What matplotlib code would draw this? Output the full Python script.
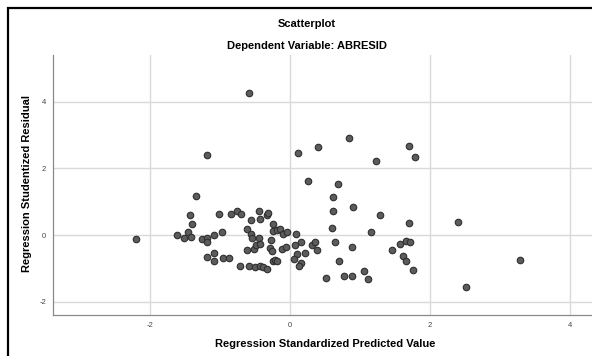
import numpy as np
import matplotlib
matplotlib.use("Agg")
import matplotlib.pyplot as plt
from matplotlib.patches import Rectangle

# Regression standardized predicted value (x) / studentized residual (y)
pred = [-2.20, -1.35, -1.61, -1.52, -1.46, -1.41, -1.43, -1.40, -1.26, -1.19,
        -1.19, -1.08, -0.97, -1.02, -0.84, -0.76, -0.70, -1.08, -1.19, -1.08,
        -0.96, -0.87, -0.71, -0.58, -0.50, -0.43, -0.39, -0.33, -0.61, -0.56,
        -0.55, -0.56, -0.45, -0.43, -0.33, -0.31, -0.44, -0.61, -0.51, -0.48,
        -0.43, -0.27, -0.29, -0.26, -0.24, -0.25, -0.19, -0.14, -0.10, -0.04,
        -0.12, -0.06, -0.25, -0.21, -0.18,
        -0.58, -1.19, 0.11, 0.40, 0.84, 1.23, 1.70, 1.79,
        0.26, 0.68, 0.61, 0.90, 0.62, 1.29, 1.70, 2.40, 0.60, 1.15,
        0.08, 0.07, 0.15, 0.31, 0.35, 0.38, 0.64, 0.89, 0.10, 0.21,
        0.05, 0.16, 0.13, 0.70, 1.45, 1.57, 1.65, 1.72, 1.61, 1.66,
        1.75, 1.06, 1.11, 0.52, 0.77, 0.88, 3.28, 2.52]
resid = [-0.11, 1.18, 0.00, -0.08, 0.08, -0.06, 0.61, 0.32, -0.13, -0.10,
         -0.20, 0.00, 0.08, 0.62, 0.62, 0.72, 0.62, -0.53, -0.67, -0.77,
         -0.68, -0.68, -0.92, -0.92, -0.97, -0.92, -0.97, -1.03, 0.19, 0.02,
         -0.08, 0.46, 0.71, 0.48, 0.59, 0.65, -0.10, -0.45, -0.41, -0.31,
         -0.28, -0.15, -0.38, -0.47, 0.33, 0.11, 0.15, 0.18, 0.04, 0.09,
         -0.41, -0.37, -0.78, -0.76, -0.77,
         4.27, 2.40, 2.45, 2.65, 2.91, 2.23, 2.67, 2.35,
         1.63, 1.54, 1.13, 0.84, 0.71, 0.60, 0.36, 0.40, 0.22, 0.08,
         0.03, -0.30, -0.22, -0.29, -0.20, -0.44, -0.20, -0.37, -0.58, -0.54,
         -0.72, -0.84, -0.93, -0.79, -0.46, -0.26, -0.18, -0.22, -0.62, -0.77,
         -1.06, -1.08, -1.31, -1.29, -1.23, -1.23, -0.76, -1.57]
ticks = [-2, 0, 2, 4]

plt.rcParams['font.family'] = ['Liberation Sans', 'DejaVu Sans']

fig = plt.figure(figsize=(5.92, 3.56), dpi=100)
W, H = 592.0, 356.0
ax = fig.add_axes([53 / W, 1 - 315 / H, 1 - 53 / W, (315 - 55) / H])

ax.scatter(pred, resid, s=22, c='#5c5c5c', edgecolors='#2e2e2e', linewidths=0.8, zorder=3)

ax.set_xlim(-3.386, 4.314)
ax.set_ylim(-2.4, 5.4)
ax.set_xticks(ticks)
ax.set_yticks(ticks)
ax.set_xticklabels([str(t) for t in ticks])
ax.set_yticklabels([str(t) for t in ticks])
ax.tick_params(length=0, labelsize=5.5, labelcolor='#444444', pad=5)
ax.grid(True, color='#d9d9d9', linewidth=1.0, zorder=0)
ax.set_axisbelow(True)
for side in ['top', 'right']:
    ax.spines[side].set_visible(False)
for side in ['left', 'bottom']:
    ax.spines[side].set_color('#8a8a8a')
    ax.spines[side].set_linewidth(0.9)

fig.text(307 / W, 1 - 24 / H, 'Scatterplot', ha='center', va='center', fontsize=8, fontweight='bold')
fig.text(307 / W, 1 - 46 / H, 'Dependent Variable: ABRESID', ha='center', va='center', fontsize=8, fontweight='bold')
fig.text(325 / W, 1 - 344 / H, 'Regression Standardized Predicted Value', ha='center', va='center',
         fontsize=8, fontweight='bold')
fig.text(27 / W, 1 - 184 / H, 'Regression Studentized Residual', ha='center', va='center',
         rotation=90, fontsize=8, fontweight='bold')

# black frame (top and left edges visible)
fig.patches.append(Rectangle((8.3 / W, -0.1), 1.2, 1 - 8.3 / H + 0.1, transform=fig.transFigure,
                             fill=False, edgecolor='black', linewidth=1.6))

fig.savefig('out.png', dpi=100)
